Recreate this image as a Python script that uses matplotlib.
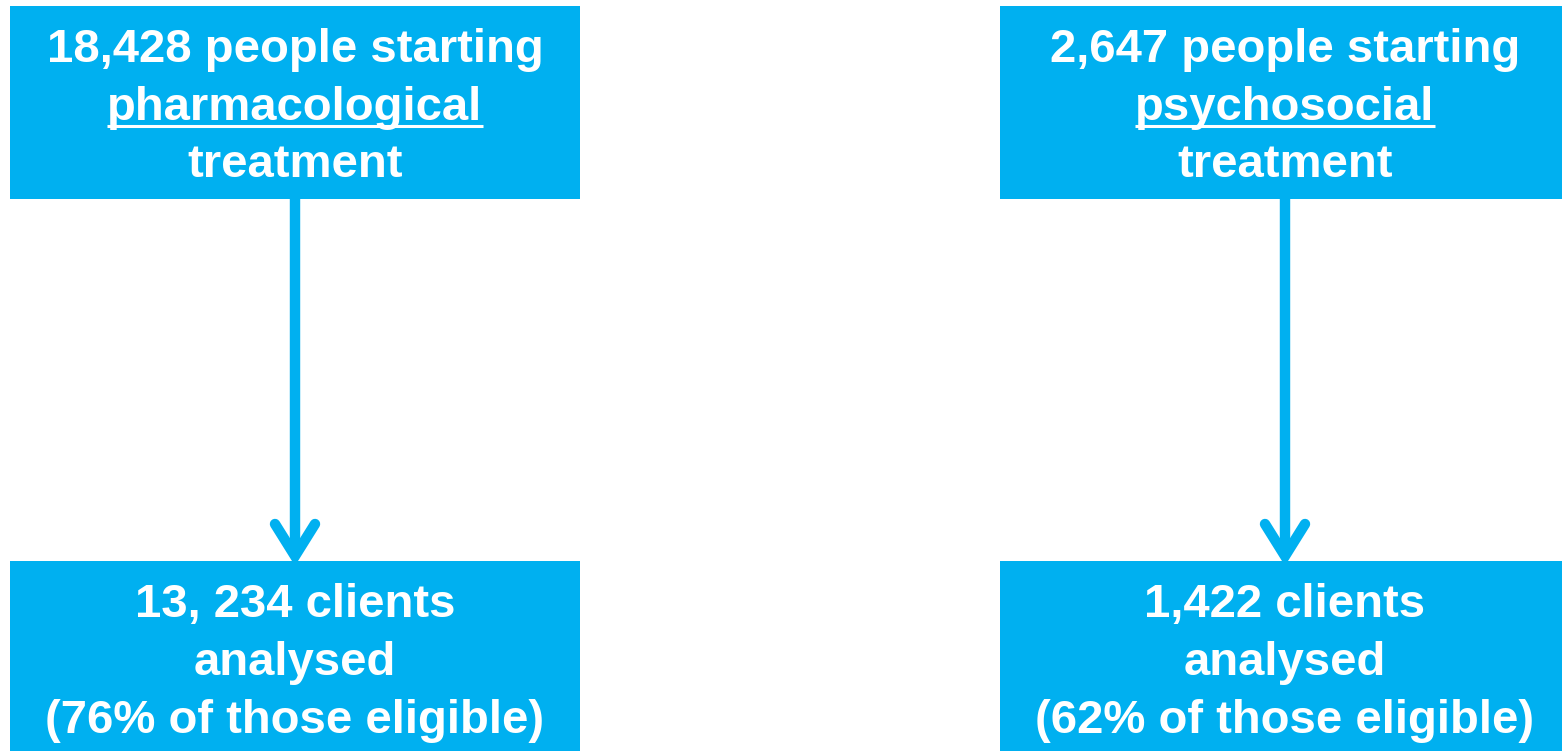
import matplotlib.pyplot as plt
from matplotlib.patches import Rectangle

# flowchart contents
top_counts = ['18,428', '2,647']
top_kinds = ['pharmacological', 'psychosocial']
bottom_counts = ['13, 234', '1,422']
bottom_pct = ['76%', '62%']

box_color = '#00B0F0'
font = 'Liberation Sans'
fsize = 34

fig = plt.figure(figsize=(15.62, 7.51), dpi=100)
ax = fig.add_axes([0, 0, 1, 1])
ax.set_xlim(0, 1562)
ax.set_ylim(751, 0)
ax.axis('off')

centers = [295, 1285]
box_lefts = [10, 1000]
box_widths = [570, 570]

def label(x, y, s):
    return ax.text(x, y, s, ha='center', va='baseline', color='white',
                   fontsize=fsize, fontweight='bold', family=font)

underlines = []
for i in range(2):
    cx = centers[i]
    # top box
    ax.add_patch(Rectangle((box_lefts[i], 6), box_widths[i], 193, color=box_color, lw=0))
    # bottom box
    ax.add_patch(Rectangle((box_lefts[i], 561), box_widths[i], 200, color=box_color, lw=0))

    label(cx, 62, f'{top_counts[i]} people starting')
    underlines.append(label(cx, 120, top_kinds[i]))
    label(cx, 177, 'treatment')

    label(cx, 617, f'{bottom_counts[i]} clients')
    label(cx, 675, 'analysed')
    label(cx, 733, f'({bottom_pct[i]} of those eligible)')

    # arrow: shaft plus chevron head
    ax.plot([cx, cx], [199, 555], color=box_color, lw=7.5, solid_capstyle='butt')
    ax.plot([cx - 20, cx, cx + 20], [524, 556, 524], color=box_color, lw=7.5,
            solid_capstyle='round', solid_joinstyle='miter')

# underline the treatment type
fig.canvas.draw()
renderer = fig.canvas.get_renderer()
inv = ax.transData.inverted()
for t in underlines:
    bb = t.get_window_extent(renderer)
    (x0, y0), (x1, y1) = inv.transform([[bb.x0, bb.y0], [bb.x1, bb.y1]])
    ax.plot([x0, x1], [126, 126], color='white', lw=2.2, solid_capstyle='butt')

fig.savefig('out.png', dpi=100)
